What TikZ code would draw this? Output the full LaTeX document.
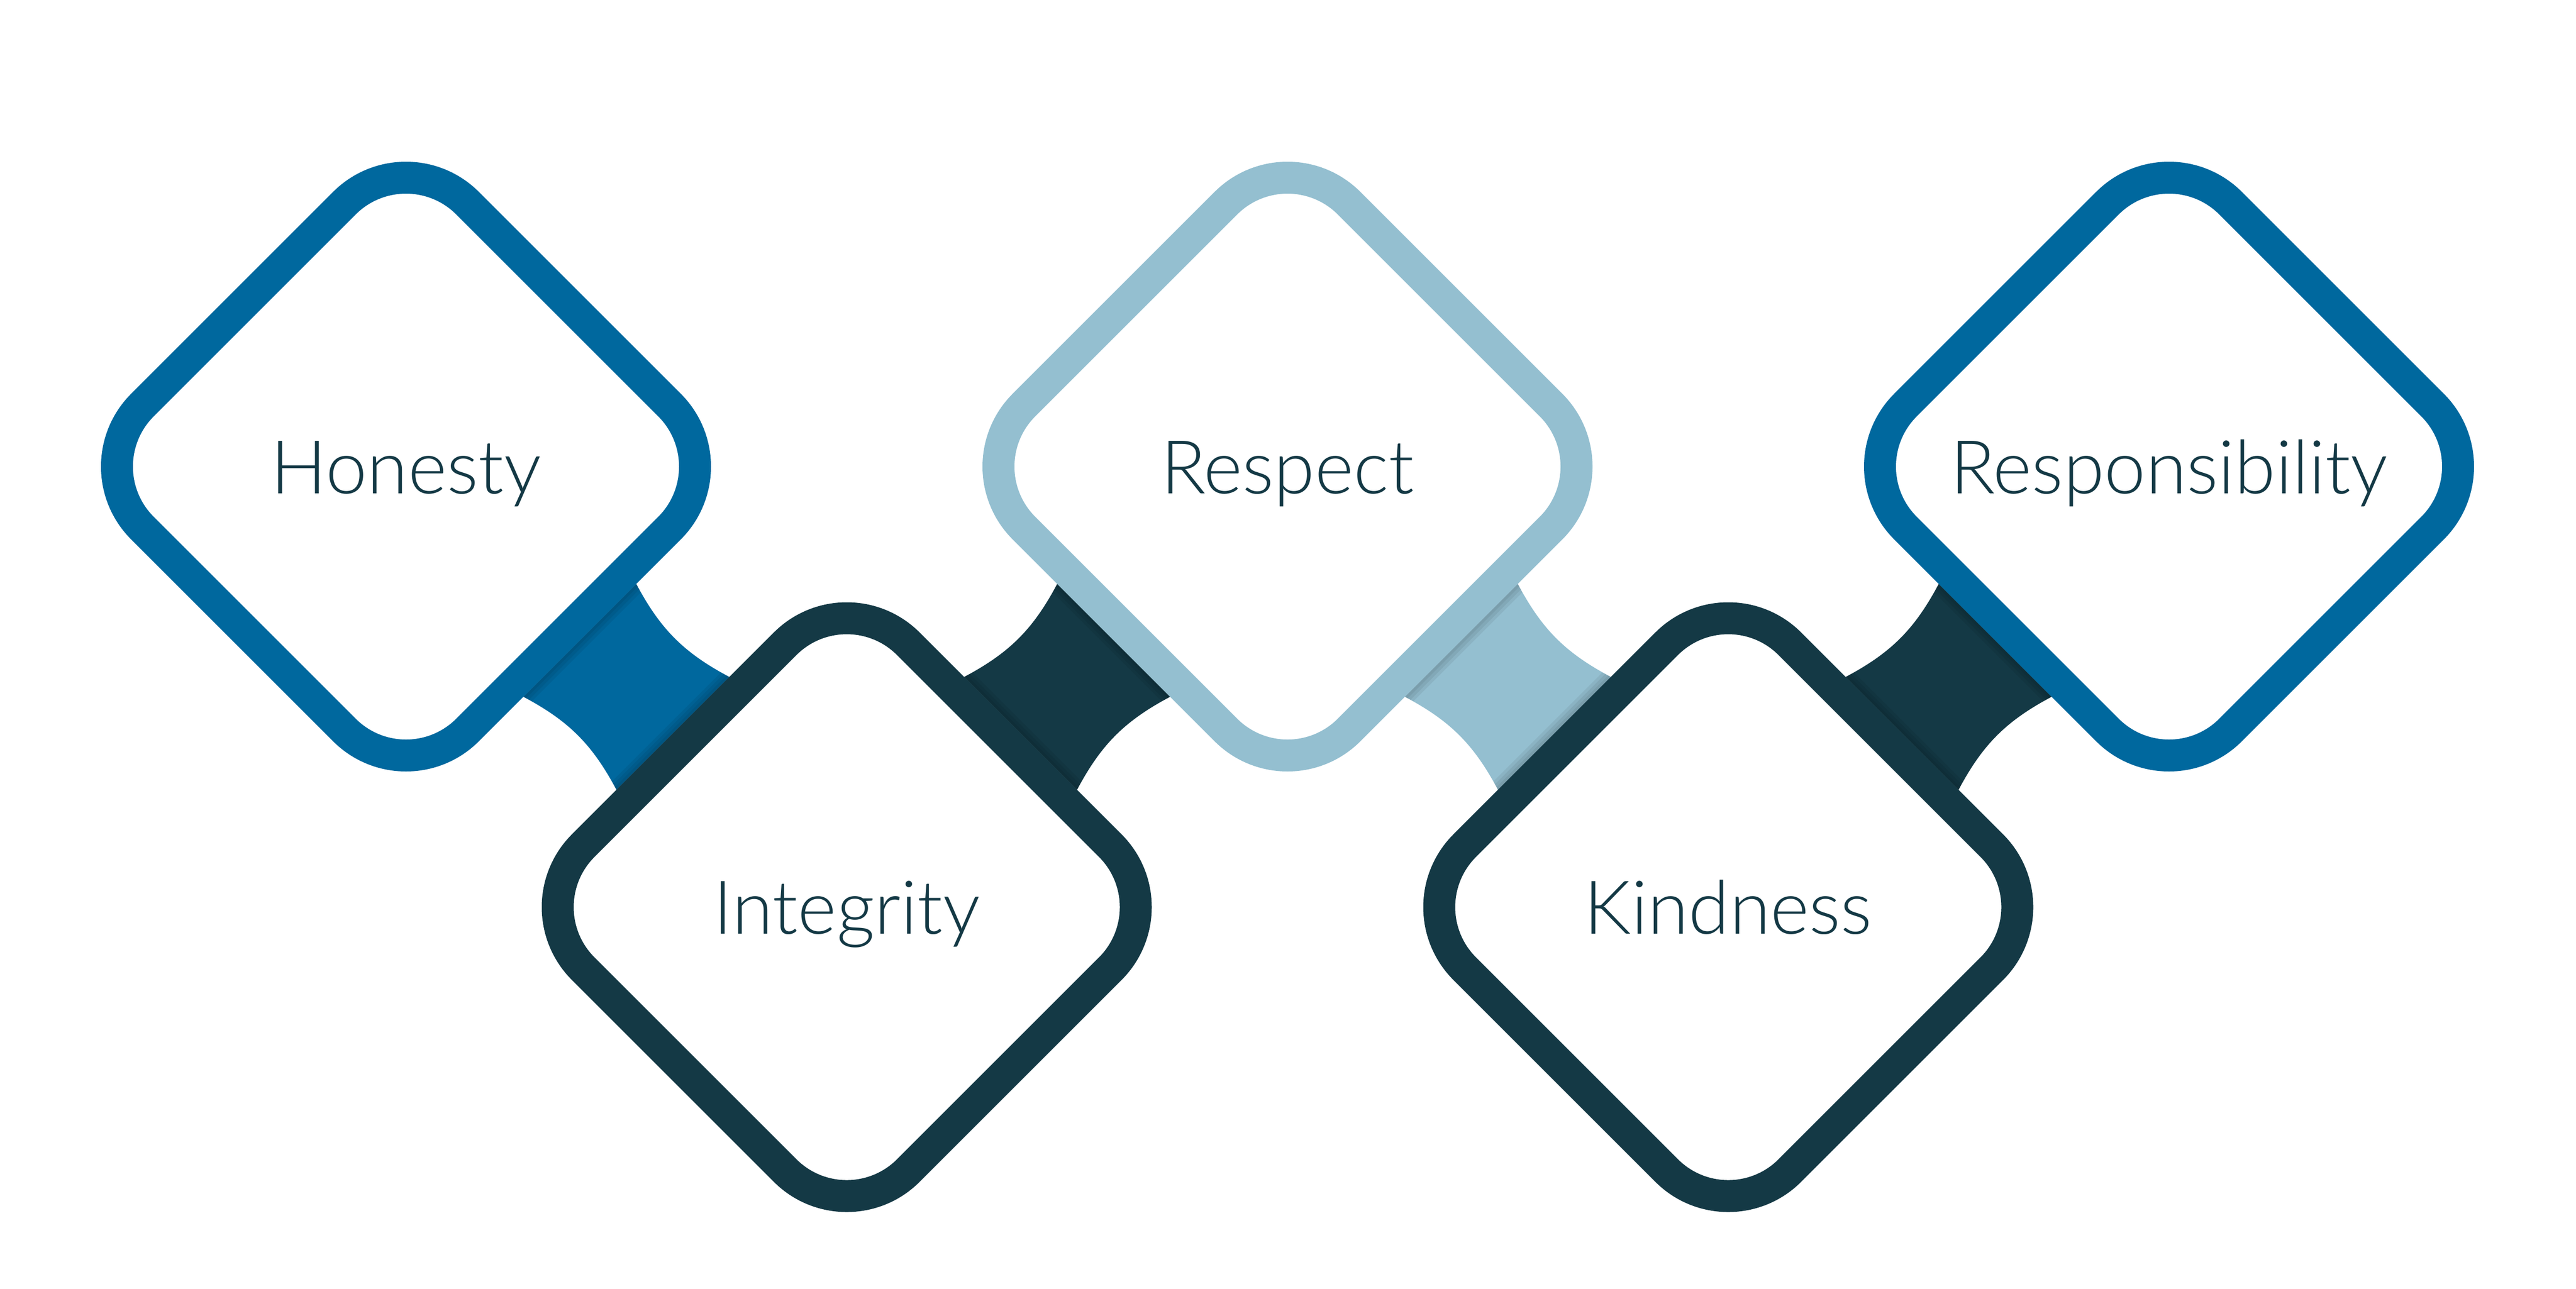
\documentclass[tikz,border=0pt]{standalone}
\usepackage{fontspec}
\setmainfont{Lato Light}
\definecolor{valblue}{RGB}{0, 104, 158}
\definecolor{valdark}{RGB}{20, 57, 69}
\definecolor{vallight}{RGB}{148, 191, 208}
\usetikzlibrary{positioning, shapes.geometric, calc, backgrounds}

\begin{document}
\begin{tikzpicture}[
		value/.style={draw, diamond, aspect=1, rounded corners=1.69cm, line width=0.62cm, fill=white, minimum size=12.62cm, inner sep=0pt, outer sep=0pt, on grid, text=valdark, font=\fontsize{41}{41}\selectfont, text height=1.04cm, text depth=0pt},
		link/.style={bend right=17}
		]
		\useasboundingbox (0,0) rectangle (50,-25.02);
		
		\node[value, draw=valblue] (v1) at (7.88,-9.06) {Honesty};
		\node[value, draw=valdark, below right=8.555cm and 8.555cm of v1] (v2) {Integrity};
		\node[value, draw=vallight, above right=8.555cm and 8.555cm of v2] (v3) {Respect};
		\node[value, draw=valdark, below right=8.555cm and 8.555cm of v3] (v4) {Kindness};
		\node[value, draw=valblue, above right=8.555cm and 8.555cm of v4] (v5) {Responsibility};
		
		\begin{scope}[on background layer]
			\foreach \p/\q/\col in {v1/v2/valblue, v2/v3/valdark, v3/v4/vallight, v4/v5/valdark}{
				\coordinate (t1) at ($(\p)!4.77cm!(\q)!1.55cm!90:(\q)$);
				\coordinate (t2) at ($(\p)!4.77cm!(\q)!1.55cm!-90:(\q)$);
				\coordinate (b1) at ($(\q)!4.77cm!(\p)!1.55cm!-90:(\p)$);
				\coordinate (b2) at ($(\q)!4.77cm!(\p)!1.55cm!90:(\p)$);
				\fill[\col] (t1) to[link] (b1) -- (b2) to[link] (t2) -- cycle;
				\begin{scope}
					\clip (t1) to[link] (b1) -- (b2) to[link] (t2) -- cycle;
					\foreach \w in {0.36,0.24,0.12}
					\draw[black, opacity=0.06, line width=\w cm] (t1) -- (t2) (b1) -- (b2);
				\end{scope}
			}
		\end{scope}
		
	\end{tikzpicture}
\end{document}
